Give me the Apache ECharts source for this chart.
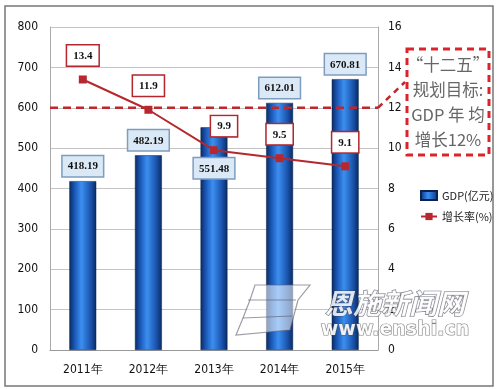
<!DOCTYPE html>
<html><head><meta charset="utf-8">
<script src="https://cdn.jsdelivr.net/npm/echarts@6/dist/echarts.min.js"></script>
<style>html,body{margin:0;padding:0;background:#fff}#c{width:500px;height:389px}</style>
</head><body><div id="c"></div>
<script>
var categories = ['2011年','2012年','2013年','2014年','2015年'];
var gdp = [418.19, 482.19, 551.48, 612.01, 670.81];
var rate = [13.4, 11.9, 9.9, 9.5, 9.1];
var target = 12;
var noteLines = ['“十二五”','规划目标:','GDP 年 均','增长12%'];

var chart = echarts.init(document.getElementById('c'));
var barGrad = new echarts.graphic.LinearGradient(0,0,1,0,[
  {offset:0,color:'#0a2a60'},{offset:0.2,color:'#1b58b8'},{offset:0.45,color:'#3b8ff0'},
  {offset:0.8,color:'#1a52ab'},{offset:1,color:'#0a2a60'}]);
var serifBold = {fontFamily:'Liberation Serif',fontWeight:'bold',fontSize:11,color:'#111'};
var barLabel = Object.assign({show:true,position:'top',distance:5,backgroundColor:'#dbe9f6',borderColor:'#7d9dbf',borderWidth:1.5,padding:[5,5,4,5],formatter:function(p){return p.value.toFixed(2);}}, serifBold);
var lineLabel = Object.assign({show:true,position:'top',distance:10,backgroundColor:'#fff',borderColor:'#b2262c',borderWidth:1.5,padding:[5,6,4,6]}, serifBold);

var barData = gdp.map(function(v,i){
  var d = {value:v};
  if (i===2) d.label = {position:'insideTop',distance:31};
  return d;
});
var lineData = rate.map(function(v,i){
  var d = {value:v};
  if (i===2) d.label = {offset:[10,0]};
  return d;
});

var gridL = 50, gridR = 122, gridT = 27, gridB = 39;
chart.setOption({
  animation:false,
  grid:{left:gridL,right:gridR,top:gridT,bottom:gridB},
  legend:{orient:'vertical',left:415,top:185,itemGap:10,itemWidth:16,itemHeight:9,
    textStyle:{fontSize:11,color:'#222',fontFamily:'Noto Sans CJK SC'},
    data:[{name:'GDP(亿元)',icon:'rect'},{name:'增长率(%)'}]},
  xAxis:{type:'category',data:categories,
    axisLine:{lineStyle:{color:'#999'}},
    axisTick:{inside:true,length:4,lineStyle:{color:'#999'}},
    axisLabel:{margin:14,fontSize:12,color:'#111',fontFamily:'DejaVu Sans Condensed'}},
  yAxis:[
    {type:'value',min:0,max:800,interval:100,
     axisLine:{show:true,lineStyle:{color:'#aaa'}},axisTick:{show:false},
     splitLine:{lineStyle:{color:'#c4c4c4'}},
     axisLabel:{margin:12,fontSize:12,color:'#111',fontFamily:'DejaVu Sans Condensed'}},
    {type:'value',min:0,max:16,interval:2,
     axisLine:{show:true,lineStyle:{color:'#aaa'}},axisTick:{show:false},
     splitLine:{show:false},
     axisLabel:{margin:10,fontSize:12,color:'#111',fontFamily:'DejaVu Sans Condensed'}}
  ],
  series:[
    {name:'GDP(亿元)',type:'bar',data:barData,barWidth:'41%',yAxisIndex:0,
     itemStyle:{color:barGrad,borderColor:'#0a2350',borderWidth:0.5},
     label:barLabel},
    {name:'增长率(%)',type:'line',data:lineData,yAxisIndex:1,
     symbol:'rect',symbolSize:8,
     lineStyle:{color:'#b7282e',width:2},itemStyle:{color:'#b7282e'},
     label:lineLabel,z:5}
  ]
});

var yPt = chart.convertToPixel({yAxisIndex:1},target);
var rightX = 500 - gridR;
var boxX = 407, boxY = 49, boxW = 82, boxH = 106;
var g = [
  {type:'rect',shape:{x:5,y:6,width:488,height:380},style:{fill:'none',stroke:'#777',lineWidth:1.5},silent:true},
  {type:'line',z:3,shape:{x1:gridL,y1:yPt,x2:rightX,y2:yPt},style:{stroke:'#c0262b',lineWidth:2.5,lineDash:[8,5]}},
  {type:'line',z:3,shape:{x1:rightX,y1:yPt,x2:boxX-2,y2:boxY+33},style:{stroke:'#c0262b',lineWidth:2.5,lineDash:[6,5]}},
  {type:'rect',shape:{x:boxX,y:boxY,width:boxW,height:boxH},style:{fill:'#fff',stroke:'#d9242b',lineWidth:3,lineDash:[7,5]}}
];
noteLines.forEach(function(t,i){
  g.push({type:'text',x:boxX+boxW/2,y:boxY+16+i*25,style:{text:t,fill:'#666',fontSize:16.5,fontFamily:'Noto Sans CJK SC',align:'center',verticalAlign:'middle'}});
});
g.push({type:'text',x:395,y:303,z:100,style:{text:'恩施新闻网',fill:'rgba(255,255,255,0.85)',stroke:'rgba(60,60,80,0.7)',lineWidth:1.2,fontSize:28,fontStyle:'italic',fontWeight:'bold',fontFamily:'Noto Sans CJK SC',align:'center',verticalAlign:'middle'}});
g.push({type:'text',x:395,y:330,z:100,style:{text:'www.enshi.cn',fill:'rgba(255,255,255,0.9)',stroke:'rgba(80,80,80,0.7)',lineWidth:1.2,fontSize:19,fontWeight:'bold',fontFamily:'DejaVu Sans',align:'center',verticalAlign:'middle'}});
g.push({type:'polygon',z:99,shape:{points:[[255,285],[310,285],[298,300],[290,330],[236,335],[243,318],[250,300]]},style:{fill:'rgba(255,255,255,0.55)',stroke:'rgba(90,90,110,0.6)',lineWidth:1.2}});
g.push({type:'polyline',z:100,shape:{points:[[248,300],[296,300]]},style:{stroke:'rgba(90,90,110,0.6)',lineWidth:1.2}});
g.push({type:'polyline',z:100,shape:{points:[[243,318],[292,316]]},style:{stroke:'rgba(90,90,110,0.6)',lineWidth:1.2}});
chart.setOption({graphic:g});
</script></body></html>
